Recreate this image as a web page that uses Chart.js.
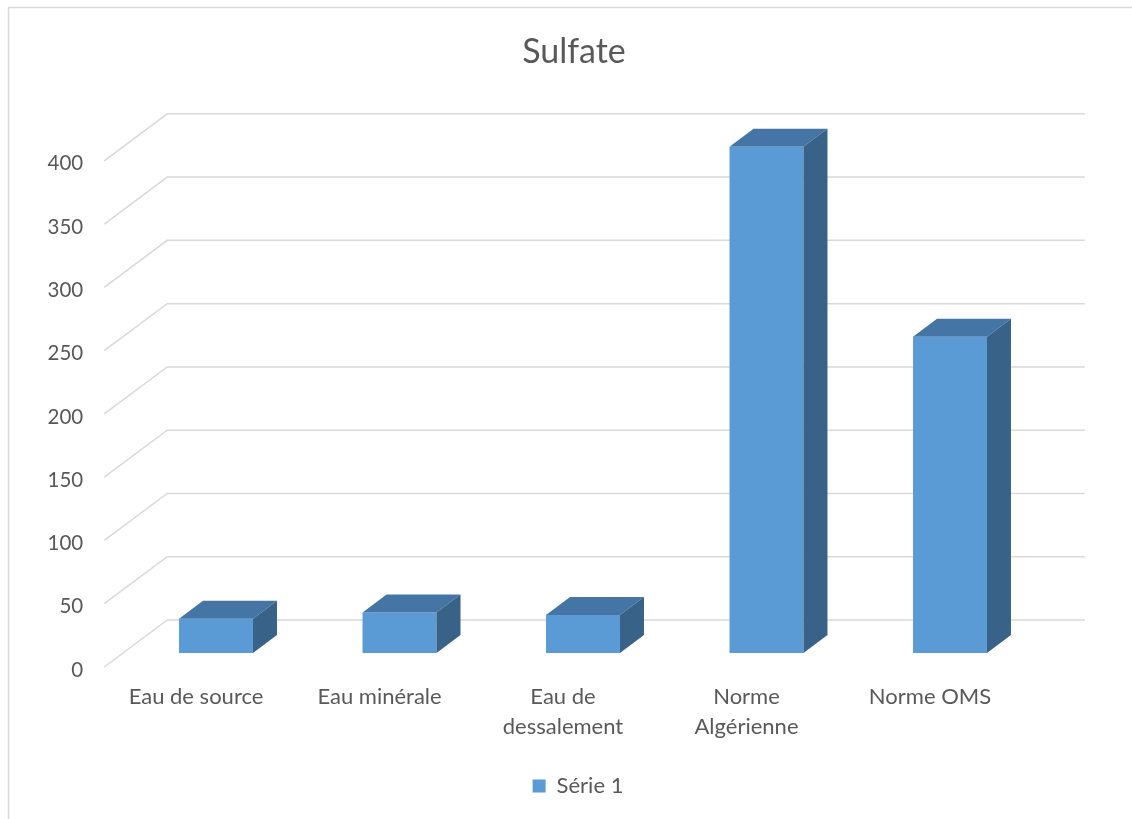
<!DOCTYPE html>
<html>
<head>
<meta charset="utf-8">
<title>Sulfate</title>
<script src="https://cdn.jsdelivr.net/npm/chart.js@4.4.1/dist/chart.umd.min.js"></script>
<style>
  html, body { margin: 0; padding: 0; background: #fff; }
  #wrap { width: 1132px; height: 819px; }
</style>
</head>
<body>
<div id="wrap"><canvas id="sulfateChart"></canvas></div>
<script>
// Sulfate data (mg/L)
const categories = ['Eau de source', 'Eau minérale', ['Eau de', 'dessalement'], ['Norme', 'Algérienne'], 'Norme OMS'];
const sulfateValues = [27, 32, 30, 400, 250];
const seriesName = 'Série 1';
const yTicks = [0, 50, 100, 150, 200, 250, 300, 350, 400];

const textColor = '#595959';
const frontColor = '#5b9bd5';
const topColor = '#4575a4';
const sideColor = '#386287';
const fontFamily = 'Lato, "Open Sans", sans-serif';

// perspective offsets: floor front edge, back wall, bar depth
const depth = { frontX: -20, frontY: 14, backX: 43, backY: -33, barX: 24, barY: -18 };

// light frame around the whole chart
const chartFrame = {
  id: 'chartFrame',
  beforeDraw(chart) {
    const ctx = chart.ctx;
    ctx.save();
    ctx.fillStyle = '#fff';
    ctx.fillRect(0, 0, chart.width, chart.height);
    ctx.strokeStyle = '#d9d9d9';
    ctx.lineWidth = 1.5;
    ctx.strokeRect(8.5, 7.5, chart.width + 20, chart.height + 20);
    ctx.restore();
  }
};

// put title and legend on their own centre lines
const centerBoxes = {
  id: 'centerBoxes',
  afterLayout(chart) {
    const place = (box, cx) => {
      if (!box) return;
      const w = box.right - box.left;
      box.left = cx - w / 2;
      box.right = box.left + w;
    };
    place(chart.titleBlock, 574);
    place(chart.legend, 578);
  }
};

// gridlines on the side wall and back wall
const wallGrid = {
  id: 'wallGrid',
  beforeDatasetsDraw(chart) {
    const { ctx, chartArea, scales: { y } } = chart;
    ctx.save();
    ctx.strokeStyle = '#d9d9d9';
    ctx.lineWidth = 1.5;
    y.ticks.forEach(t => {
      const py = y.getPixelForValue(t.value);
      ctx.beginPath();
      ctx.moveTo(chartArea.left + depth.frontX, py + depth.frontY);
      ctx.lineTo(chartArea.left + depth.backX, py + depth.backY);
      ctx.lineTo(chartArea.right + depth.backX, py + depth.backY);
      ctx.stroke();
    });
    ctx.restore();
  }
};

// top and side faces of each bar
const barFaces = {
  id: 'barFaces',
  afterDatasetsDraw(chart) {
    const ctx = chart.ctx;
    const dx = depth.barX, dy = depth.barY;
    ctx.save();
    chart.getDatasetMeta(0).data.forEach(bar => {
      const { x, y, width, base } = bar.getProps(['x', 'y', 'width', 'base'], true);
      const l = x - width / 2, r = x + width / 2;
      ctx.fillStyle = topColor;
      ctx.beginPath();
      ctx.moveTo(l, y);
      ctx.lineTo(r, y);
      ctx.lineTo(r + dx, y + dy);
      ctx.lineTo(l + dx, y + dy);
      ctx.closePath();
      ctx.fill();
      ctx.fillStyle = sideColor;
      ctx.beginPath();
      ctx.moveTo(r, y);
      ctx.lineTo(r + dx, y + dy);
      ctx.lineTo(r + dx, base + dy);
      ctx.lineTo(r, base);
      ctx.closePath();
      ctx.fill();
    });
    ctx.restore();
  }
};

const ctx = document.getElementById('sulfateChart').getContext('2d');
new Chart(ctx, {
  type: 'bar',
  data: {
    labels: categories,
    datasets: [{
      label: seriesName,
      data: sulfateValues,
      backgroundColor: frontColor,
      borderWidth: 0,
      categoryPercentage: 1,
      barPercentage: 0.403
    }]
  },
  options: {
    responsive: true,
    maintainAspectRatio: false,
    animation: false,
    layout: { padding: { left: 40, right: 90.25, top: 0, bottom: 12 } },
    plugins: {
      title: {
        display: true,
        text: 'Sulfate',
        color: textColor,
        font: { family: fontFamily, size: 34, weight: 'normal' },
        padding: { top: 32, bottom: 74 }
      },
      legend: {
        position: 'bottom',
        labels: {
          color: textColor,
          boxWidth: 13,
          boxHeight: 13,
          padding: 10,
          font: { family: fontFamily, size: 22 }
        }
      },
      tooltip: { enabled: false }
    },
    scales: {
      x: {
        grid: { display: false, drawTicks: false },
        border: { display: false },
        ticks: {
          color: textColor,
          font: { family: fontFamily, size: 22, lineHeight: 1.364 },
          padding: 29,
          labelOffset: depth.frontX,
          maxRotation: 0,
          autoSkip: false
        },
        afterFit(scale) { scale.height = 112; }
      },
      y: {
        min: yTicks[0],
        max: yTicks[yTicks.length - 1],
        grid: { display: false, drawTicks: false },
        border: { display: false },
        ticks: {
          stepSize: yTicks[1] - yTicks[0],
          color: textColor,
          font: { family: fontFamily, size: 20.5 },
          padding: 41,
          labelOffset: depth.frontY + 3
        },
        afterFit(scale) { scale.width = 84.25; }
      }
    }
  },
  plugins: [chartFrame, centerBoxes, wallGrid, barFaces]
});
</script>
</body>
</html>
